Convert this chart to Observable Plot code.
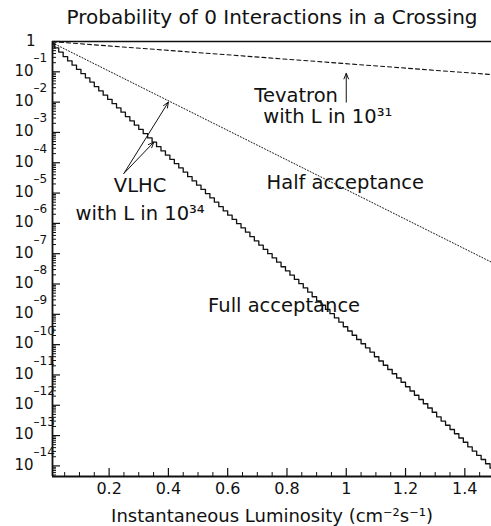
<!DOCTYPE html>
<html><head><meta charset="utf-8">
<script src="https://cdn.jsdelivr.net/npm/d3@7"></script>
<script src="https://cdn.jsdelivr.net/npm/@observablehq/plot@0.6"></script>
<style>
body{margin:0;background:#fff;}
svg{font-family:"DejaVu Sans",sans-serif;}
</style></head><body>
<div id="chart"></div>
<script>
// Full acceptance (VLHC, L in 1e34): histogram of 100 bins of width 0.015, log10 of probability per bin
const binWidth = 0.015;
const fullLog10 = [
  -0.07,-0.21,-0.35,-0.50,-0.64,-0.78,-0.92,-1.06,-1.20,-1.34,
  -1.49,-1.63,-1.77,-1.91,-2.05,-2.19,-2.33,-2.48,-2.62,-2.76,
  -2.90,-3.04,-3.18,-3.32,-3.47,-3.61,-3.75,-3.89,-4.03,-4.17,
  -4.31,-4.46,-4.60,-4.74,-4.88,-5.02,-5.16,-5.30,-5.45,-5.59,
  -5.73,-5.87,-6.01,-6.15,-6.29,-6.44,-6.58,-6.72,-6.86,-7.00,
  -7.14,-7.28,-7.43,-7.57,-7.71,-7.85,-7.99,-8.13,-8.27,-8.42,
  -8.56,-8.70,-8.84,-8.98,-9.12,-9.26,-9.41,-9.55,-9.69,-9.83,
  -9.97,-10.11,-10.25,-10.40,-10.54,-10.68,-10.82,-10.96,-11.10,-11.24,
  -11.39,-11.53,-11.67,-11.81,-11.95,-12.09,-12.23,-12.38,-12.52,-12.66,
  -12.80,-12.94,-13.08,-13.22,-13.37,-13.51,-13.65,-13.79,-13.93,-14.07
];
// Half acceptance (dotted)
const halfL = [0.009, 1.49];
const halfLog10 = [-0.045, -7.28];
// Tevatron (dashed, L in 1e31)
const tevatronL = [0.009, 1.49];
const tevatronLog10 = [-0.007, -1.09];

const xMajorTicks = [0.2, 0.4, 0.6, 0.8, 1, 1.2, 1.4];
const xTickLabels = ["0.2", "0.4", "0.6", "0.8", "1", "1.2", "1.4"];
const yExponents = [0,-1,-2,-3,-4,-5,-6,-7,-8,-9,-10,-11,-12,-13,-14];
const yExpLabels = ["", "–1","–2","–3","–4","–5","–6","–7","–8","–9","–10","–11","–12","–13","–14"];

const title = "Probability of 0 Interactions in a Crossing";
const xLabel = "Instantaneous Luminosity (cm⁻²s⁻¹)";

const annotations = [
  {text: "Tevatron", L: 0.69, lg: -1.99},
  {text: "with L in 10³¹", L: 0.72, lg: -2.70},
  {text: "VLHC", L: 0.216, lg: -4.97},
  {text: "with L in 10³⁴", L: 0.087, lg: -5.90},
  {text: "Half acceptance", L: 0.731, lg: -4.88},
  {text: "Full acceptance", L: 0.534, lg: -8.92}
];
const arrows = [
  {L1: 1.0, lg1: -2.0, L2: 1.0, lg2: -1.05},
  {L1: 0.25, lg1: -4.35, L2: 0.40, lg2: -2.00},
  {L1: 0.25, lg1: -4.35, L2: 0.351, lg2: -3.32}
];

// ---- build tables
const full = fullLog10.map((e, i) => ({L: i * binWidth, p: 10 ** e}));
full.push({L: fullLog10.length * binWidth, p: 10 ** fullLog10[fullLog10.length - 1]});
const half = halfL.map((L, i) => ({L, p: 10 ** halfLog10[i]}));
const tev = tevatronL.map((L, i) => ({L, p: 10 ** tevatronLog10[i]}));

const xDomain = [0.009, 1.49];
const yDomain = [10 ** -14.35, 1];
const xMinorTicks = d3.range(1, 30).map(i => i * 0.05).filter(v => Math.abs(v / 0.2 - Math.round(v / 0.2)) > 1e-6);
const yMinorTicks = [];
for (let e = -15; e < 0; e++) for (let m = 2; m <= 9; m++) {
  const v = m * 10 ** e;
  if (v >= yDomain[0] && v <= 1) yMinorTicks.push(v);
}
const yMajor = yExponents.map((e, i) => ({v: 10 ** e, exp: yExpLabels[i], e}));

const W = 491, H = 526, mL = 52, mR = 0, mT = 41, mB = 50;
const pw = W - mL - mR, ph = H - mT - mB;

const chart = Plot.plot({
  width: W, height: H,
  marginLeft: mL, marginRight: mR, marginTop: mT, marginBottom: mB,
  style: {fontFamily: "DejaVu Sans, sans-serif", color: "#111", background: "#fff"},
  x: {domain: xDomain, axis: null},
  y: {type: "log", domain: yDomain, axis: null},
  marks: [
    // data lines
    Plot.line(tev, {x: "L", y: "p", stroke: "#111", strokeWidth: 1.1, strokeDasharray: "4,3", clip: true}),
    Plot.line(half, {x: "L", y: "p", stroke: "#111", strokeWidth: 1, strokeDasharray: "1,2", clip: true}),
    Plot.line(full, {x: "L", y: "p", stroke: "#111", strokeWidth: 1.3, curve: "step-after", clip: true}),
    // ticks (inward)
    Plot.tickY(yMajor, {y: "v", stroke: "#111", strokeWidth: 1.2, insetRight: pw - 8}),
    Plot.tickY(yMinorTicks, {y: d => d, stroke: "#111", strokeWidth: 1, insetRight: pw - 4}),
    Plot.tickX(xMajorTicks, {x: d => d, stroke: "#111", strokeWidth: 1.2, insetTop: ph - 8}),
    Plot.tickX(xMinorTicks, {x: d => d, stroke: "#111", strokeWidth: 1, insetTop: ph - 4}),
    // frame lines
    Plot.ruleX([xDomain[0]], {stroke: "#111", strokeWidth: 1.8}),
    Plot.ruleY([yDomain[0]], {stroke: "#111", strokeWidth: 1.8}),
    Plot.ruleY([1], {stroke: "#111", strokeWidth: 1.5}),
    // y tick labels
    Plot.text(yMajor.filter(d => d.e === 0), {y: "v", text: () => "1", frameAnchor: "left", dx: -17, textAnchor: "end", lineAnchor: "middle", fontSize: 15, fill: "#111"}),
    Plot.text(yMajor.filter(d => d.e !== 0), {y: "v", text: () => "10", frameAnchor: "left", dx: -19, dy: -1, textAnchor: "end", lineAnchor: "middle", fontSize: 15, fill: "#111"}),
    Plot.text(yMajor.filter(d => d.e !== 0), {y: "v", text: "exp", frameAnchor: "left", dx: -19, dy: -10, textAnchor: "start", lineAnchor: "bottom", fontSize: 12, fill: "#111"}),
    // x tick labels
    Plot.text(xMajorTicks, {x: d => d, text: (d, i) => xTickLabels[i], frameAnchor: "bottom", dy: 17, lineAnchor: "bottom", fontSize: 16, fill: "#111"}),
    // title and axis label
    Plot.text([title], {frameAnchor: "top", dy: -18, lineAnchor: "bottom", fontSize: 20, fill: "#111"}),
    Plot.text([xLabel], {frameAnchor: "bottom", dy: 45, lineAnchor: "bottom", fontSize: 18, fill: "#111"}),
    // annotations
    Plot.text(annotations, {x: "L", y: d => 10 ** d.lg, text: "text", textAnchor: "start", lineAnchor: "bottom", fontSize: 19.5, fill: "#111"}),
    Plot.arrow(arrows, {x1: "L1", y1: d => 10 ** d.lg1, x2: "L2", y2: d => 10 ** d.lg2, stroke: "#111", strokeWidth: 1, headLength: 9, headAngle: 45, bend: 0})
  ]
});
document.getElementById("chart").appendChild(chart);
</script>
</body></html>
